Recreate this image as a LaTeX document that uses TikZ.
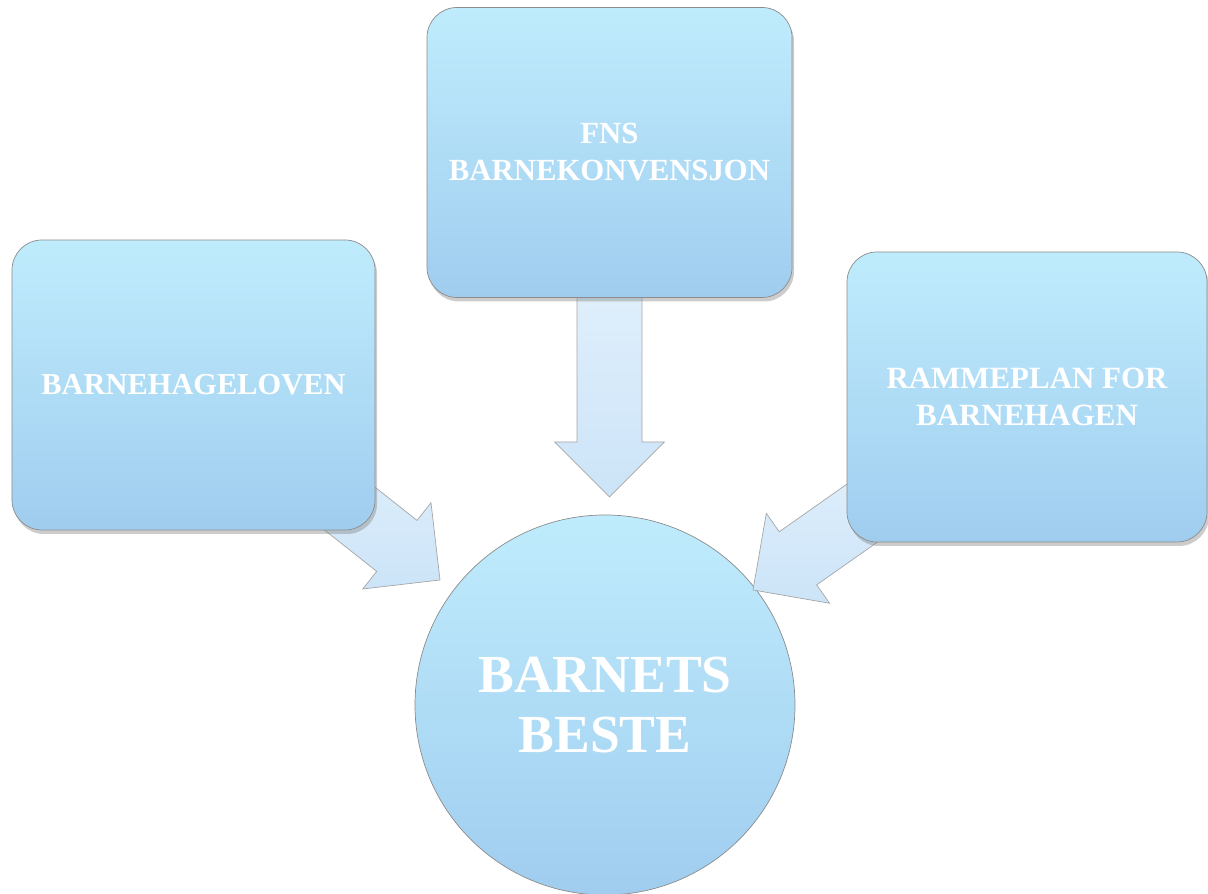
\documentclass[tikz,border=0pt]{standalone}
\usepackage{fontspec}
\setmainfont{Liberation Serif}
\usetikzlibrary{calc}
\usetikzlibrary{shadows}
\definecolor{boxtop}{RGB}{191,236,252}
\definecolor{boxbot}{RGB}{160,205,239}
\definecolor{arrtop}{RGB}{236,246,254}
\definecolor{arrbot}{RGB}{204,228,248}
\tikzset{plan/.style={rectangle, rounded corners=0.6cm, minimum width=7.26cm,
   minimum height=5.8cm, draw=black!45, top color=boxtop, bottom color=boxbot,
   drop shadow={opacity=0.4, shadow xshift=0.04cm, shadow yshift=-0.08cm},
   text=white, font=\bfseries, align=center},
 goal/.style={circle, minimum size=7.6cm, draw=black!45, top color=boxtop,
   bottom color=boxbot, text=white, align=center,
   font=\fontsize{30.5}{34.5}\selectfont\bfseries},
 bigarrow/.style={draw=black!35, top color=arrtop, bottom color=arrbot, line join=miter},
}
% block arrow from #1 to the tip #2
\newcommand\blockarrow[2]{%
  \coordinate (h) at ($(#2)!1.1cm!(#1)$);
  \path[bigarrow] ($(#1)!0.65cm!-90:(#2)$) -- ($(h)!0.65cm!-90:(#2)$)
    -- ($(h)!1.1cm!-90:(#2)$) -- (#2) -- ($(h)!1.1cm!90:(#2)$)
    -- ($(h)!0.65cm!90:(#2)$) -- ($(#1)!0.65cm!90:(#2)$) -- cycle;
}
\begin{document}
\begin{tikzpicture}
    \useasboundingbox (0,0) rectangle (24.16,17.88);
    \coordinate (lov) at (3.87,10.18);
    \coordinate (fns) at (12.19,14.83);
    \coordinate (plan) at (20.54,9.94);
    \coordinate (tipL) at (8.8,6.28);
    \coordinate (tipT) at (12.19,7.94);
    \coordinate (tipR) at (15.06,6.08);

    \node[goal] (beste) at (12.1,3.78) {BARNETS\\BESTE};

    \blockarrow{lov}{tipL}
    \blockarrow{fns}{tipT}
    \blockarrow{plan}{tipR}

    \node[plan, font=\fontsize{17.3}{21}\selectfont\bfseries] (lovbox) at (lov) {BARNEHAGELOVEN};
    \node[plan, minimum width=7.3cm, font=\fontsize{17.5}{21}\selectfont\bfseries] (fnsbox) at (fns) {FNS\\BARNEKONVENSJON};
    \node[plan, minimum width=7.2cm, font=\fontsize{17.6}{21}\selectfont\bfseries] (planbox) at (plan) {RAMMEPLAN FOR\\BARNEHAGEN};
\end{tikzpicture}
\end{document}
